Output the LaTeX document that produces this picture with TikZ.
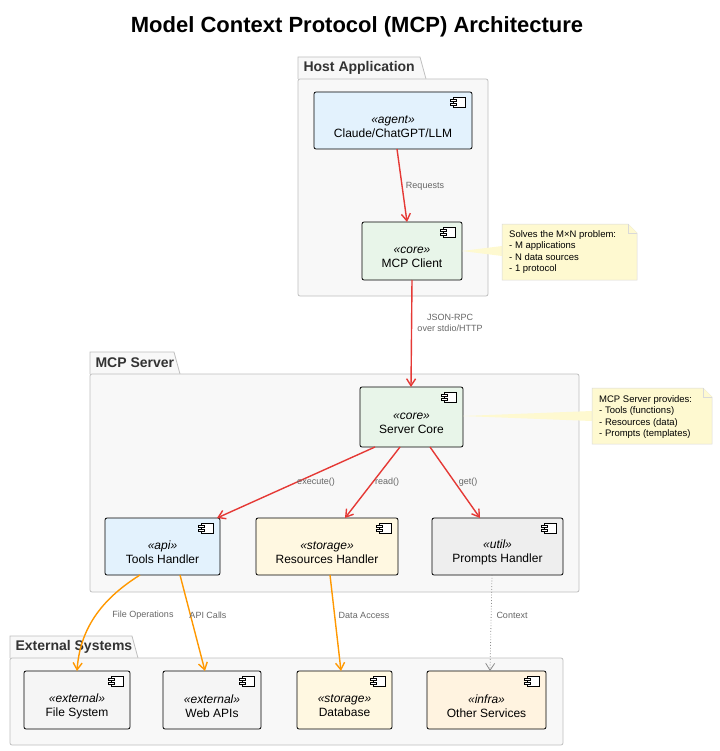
\documentclass[tikz,border=0pt]{standalone}
\usepackage{fontspec}
\setmainfont{Liberation Sans}
\usetikzlibrary{arrows.meta}
\definecolor{cblue}{HTML}{E3F2FD}
\definecolor{cgreen}{HTML}{E8F5E9}
\definecolor{cyel}{HTML}{FFF8E1}
\definecolor{cora}{HTML}{FFF3E0}
\definecolor{cgray}{HTML}{F5F5F5}
\definecolor{cgray2}{HTML}{EEEEEE}
\definecolor{cnote}{HTML}{FEF9D0}
\definecolor{cred}{HTML}{E53935}
\definecolor{corange}{HTML}{FF9800}
\definecolor{cpkg}{HTML}{F8F8F8}
\begin{document}
\begin{tikzpicture}[x=1pt,y=-1pt,
 pkg/.style={draw=black!25,fill=cpkg,line width=0.8pt,rounded corners=2pt},
 comp/.style={draw=black,line width=0.8pt,rounded corners=2pt,align=center,font=\fontsize{12}{14}\selectfont},
 lbl/.style={font=\fontsize{9}{11}\selectfont,text=black!60,align=center},
 note/.style={draw=black!15,fill=cnote,line width=0.5pt},
 notetxt/.style={font=\fontsize{9.5}{11.5}\selectfont,align=left,anchor=north west,inner sep=0pt},
 red/.style={draw=cred,line width=1.4pt,-{Straight Barb[length=7pt,width=9pt]}},
 ora/.style={draw=corange,line width=1.4pt,-{Straight Barb[length=7pt,width=9pt]}},
 dot/.style={draw=black!45,line width=0.8pt,dotted,-{Straight Barb[length=7pt,width=9pt]}},
 ptitle/.style={font=\bfseries\fontsize{14}{16}\selectfont,text=black!80,anchor=west}]
\useasboundingbox (0,0) rectangle (719,751);
\node[font=\bfseries\fontsize{22}{26}\selectfont] (title) at (357,27) {Model Context Protocol (MCP) Architecture};
\newcommand{\pkgbox}[6]{%
 \draw[pkg,rounded corners=0pt] (#1,#2+22) -- (#1,#2) -- (#5,#2) -- (#5+6,#2+22);
 \draw[pkg] (#1,#2+22) rectangle (#3,#4);
 \node[ptitle] at (#1+2,#2+11) {#6};}
\pkgbox{298}{57}{488}{296}{420}{Host Application}
\pkgbox{90}{352}{579}{592}{174}{MCP Server}
\pkgbox{10}{636}{563}{745}{132}{External Systems}
\newcommand{\icon}[2]{\draw[line width=0.7pt,fill=white] (#1-12,#2) rectangle (#1,#2+10);
 \draw[line width=0.7pt,fill=white] (#1-15,#2+2) rectangle (#1-9,#2+4);
 \draw[line width=0.7pt,fill=white] (#1-15,#2+6) rectangle (#1-9,#2+8);}
\newcommand{\comp}[7]{%
 \node[comp,fill=#6,minimum width=#4-#2,minimum height=#5-#3] (#1) at ({(#2+#4)/2},{(#3+#5)/2}) {};
 \node[comp,draw=none,fill=none] (#1t) at ({(#2+#4)/2},{(#3+#5)/2+6}) {#7};
 \icon{#4-7}{#3+5}}
\comp{llm}{314}{92}{472}{149}{cblue}{\textit{«agent»}\\Claude/ChatGPT/LLM}
\comp{client}{362}{222}{462}{280}{cgreen}{\textit{«core»}\\MCP Client}
\comp{core}{360}{387}{463}{447}{cgreen}{\textit{«core»}\\Server Core}
\comp{tools}{105}{518}{220}{575}{cblue}{\textit{«api»}\\Tools Handler}
\comp{res}{256}{518}{398}{575}{cyel}{\textit{«storage»}\\Resources Handler}
\comp{prm}{432}{518}{563}{575}{cgray2}{\textit{«util»}\\Prompts Handler}
\comp{fs}{24}{671}{130}{729}{cgray}{\textit{«external»}\\File System}
\comp{web}{163}{671}{261}{729}{cgray}{\textit{«external»}\\Web APIs}
\comp{db}{297}{671}{392}{729}{cyel}{\textit{«storage»}\\Database}
\comp{oth}{427}{671}{546}{729}{cora}{\textit{«infra»}\\Other Services}
% notes
\fill[cnote] (462,251) -- (502,246) -- (502,256) -- cycle;
\draw[note] (502,224) -- (628,224) -- (637,233) -- (637,280) -- (502,280) -- cycle;
\draw[note] (628,224) -- (628,233) -- (637,233);
\node[notetxt] (n1) at (509,230) {Solves the M×N problem:\\- M applications\\- N data sources\\- 1 protocol};
\fill[cnote] (463,416) -- (592,411) -- (592,421) -- cycle;
\draw[note] (592,388) -- (703,388) -- (712,397) -- (712,444) -- (592,444) -- cycle;
\draw[note] (703,388) -- (703,397) -- (712,397);
\node[notetxt] (n2) at (599,395) {MCP Server provides:\\- Tools (functions)\\- Resources (data)\\- Prompts (templates)};
% edges
\coordinate (a1) at (397,149); \coordinate (a2) at (407,222);
\draw[red] (a1) -- (a2);
\node[lbl] (l1) at (425,186) {Requests};
\coordinate (b1) at (412,280); \coordinate (b2) at (411,387);
\draw[red] (b1) -- (b2);
\node[lbl] (l2) at (450,323) {JSON-RPC\\over stdio/HTTP};
\coordinate (c0) at (375,447); \coordinate (c1) at (217,518);
\draw[red] (c0) -- (c1);
\node[lbl] (l3) at (316,482) {execute()};
\coordinate (d0) at (400,447); \coordinate (d1) at (345,518);
\draw[red] (d0) -- (d1);
\node[lbl] (l4) at (387,482) {read()};
\coordinate (e0) at (430,447); \coordinate (e1) at (480,518);
\draw[red] (e0) -- (e1);
\node[lbl] (l5) at (468,482) {get()};
\coordinate (f0) at (140,575); \coordinate (f1) at (77,671);
\draw[ora] (f0) .. controls (100,600) and (80,630) .. (f1);
\node[lbl] (l6) at (143,615) {File Operations};
\coordinate (g0) at (180,575); \coordinate (g1) at (205,671);
\draw[ora] (g0) -- (g1);
\node[lbl] (l7) at (208,615) {API Calls};
\coordinate (h0) at (330,575); \coordinate (h1) at (341,671);
\draw[ora] (h0) -- (h1);
\node[lbl] (l8) at (364,615) {Data Access};
\coordinate (i0) at (492,575); \coordinate (i1) at (490,671);
\draw[dot] (i0) -- (i1);
\node[lbl] (l9) at (512,615) {Context};
\end{tikzpicture}
\end{document}
